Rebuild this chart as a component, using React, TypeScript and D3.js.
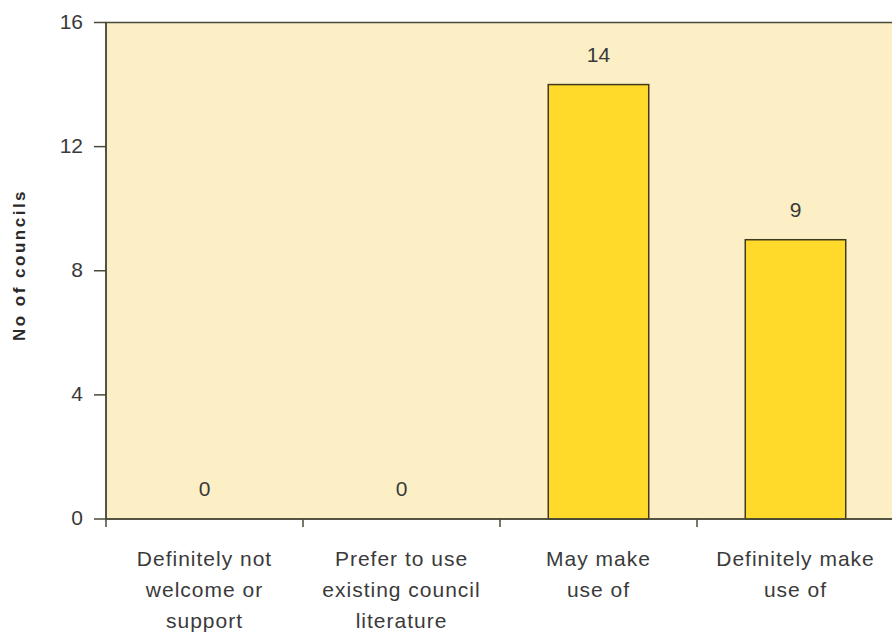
import React from "react";
import * as d3 from "d3";

const categories: string[][] = [
  ["Definitely not", "welcome or", "support"],
  ["Prefer to use", "existing council", "literature"],
  ["May make", "use of"],
  ["Definitely make", "use of"],
];
const values: number[] = [0, 0, 14, 9];
const yTicks: number[] = [0, 4, 8, 12, 16];

export default function App() {
  const W = 892, H = 643;
  const left = 106, right = 894, top = 22.5, bottom = 519;
  const x = d3.scaleBand<number>().domain(d3.range(values.length)).range([left, right]).paddingInner(0.49).paddingOuter(0.245);
  const band = (right - left) / values.length;
  const y = d3.scaleLinear().domain([0, 16]).range([bottom, top]);
  const font = "'Liberation Sans', Arial, sans-serif";
  const txt = "#3a3a3a";
  return (
    <svg width={W} height={H} style={{ position: "absolute", left: 0, top: 0, background: "#fff" }}>
      <rect x={left} y={top} width={right - left} height={bottom - top} fill="#FCEFC6" stroke="#4a4a38" strokeWidth={1.5} />
      {values.map((v, i) => (
        <rect key={"b" + i} x={x(i)} y={y(v)} width={x.bandwidth()} height={bottom - y(v)}
          fill="#FFDA2A" stroke="#3f3a1c" strokeWidth={1.5} style={{ display: v > 0 ? undefined : "none" }} />
      ))}
      {values.map((v, i) => (
        <text key={"v" + i} x={x(i)! + x.bandwidth() / 2} y={y(v) - 23} textAnchor="middle"
          fontFamily={font} fontSize={21} fill={txt}>{v}</text>
      ))}
      <line x1={left} x2={left} y1={top} y2={bottom} stroke="#4a4a38" strokeWidth={1.5} />
      <line x1={left} x2={right} y1={bottom} y2={bottom} stroke="#4a4a38" strokeWidth={1.5} />
      {yTicks.map((t) => (
        <g key={"t" + t}>
          <line x1={left - 12} x2={left} y1={y(t)} y2={y(t)} stroke="#4a4a38" strokeWidth={1.5} />
          <text x={left - 23} y={y(t) + 6} textAnchor="end" fontFamily={font} fontSize={21} fill={txt}>{t}</text>
        </g>
      ))}
      {d3.range(values.length + 1).map((i) => (
        <line key={"xt" + i} x1={left + i * band} x2={left + i * band} y1={bottom} y2={bottom + 8} stroke="#4a4a38" strokeWidth={1.5} />
      ))}
      {categories.map((lines, i) => (
        <text key={"c" + i} x={x(i)! + x.bandwidth() / 2} textAnchor="middle" fontFamily={font} fontSize={21}
          letterSpacing={1} fill={txt}>
          {lines.map((l, j) => (
            <tspan key={j} x={x(i)! + x.bandwidth() / 2} y={566 + j * 31}>{l}</tspan>
          ))}
        </text>
      ))}
      <text transform={`translate(25, 265) rotate(-90)`} textAnchor="middle"
        fontFamily={font} fontSize={17} fontWeight="bold" letterSpacing={2.5} fill="#2a2a2a">No of councils</text>
    </svg>
  );
}
